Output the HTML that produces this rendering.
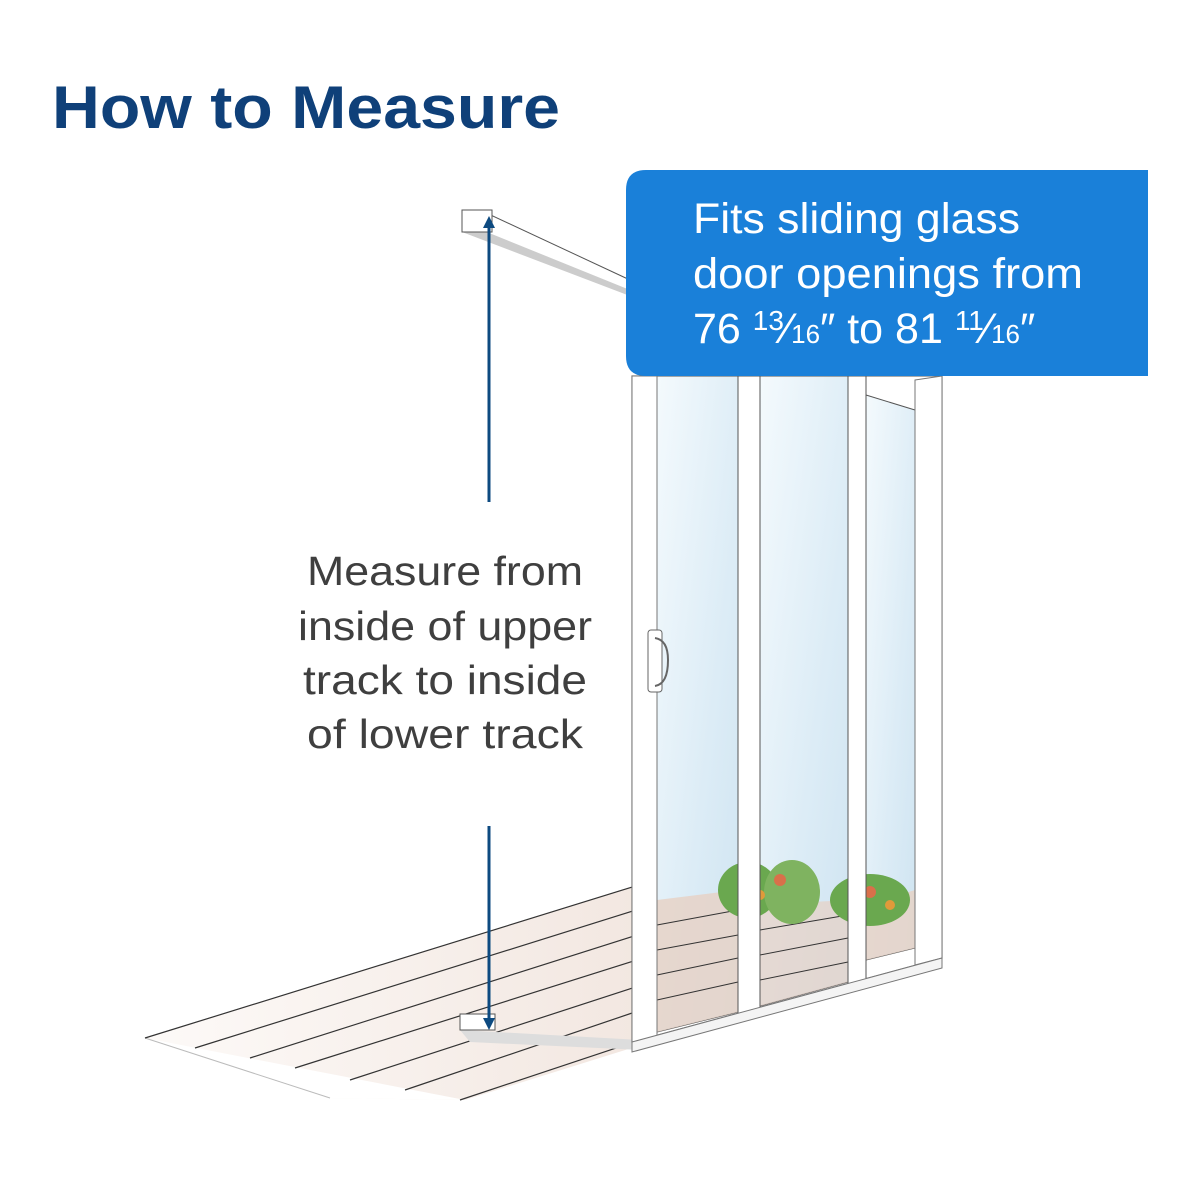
<!DOCTYPE html>
<html><head><meta charset="utf-8"><style>
html,body{margin:0;padding:0;background:#fff;}
svg{display:block;}
</style></head><body>
<svg width="1200" height="1200" viewBox="0 0 1200 1200" xmlns="http://www.w3.org/2000/svg">
<defs>
<linearGradient id="fl" x1="0" y1="0" x2="1" y2="0">
<stop offset="0" stop-color="#fdfaf8"/><stop offset="1" stop-color="#ecdcd3"/></linearGradient>
<linearGradient id="gl" x1="0" y1="0" x2="1" y2="1">
<stop offset="0" stop-color="#f4fafd"/><stop offset="0.6" stop-color="#dcecf6"/><stop offset="1" stop-color="#cfe4f1"/></linearGradient>
</defs>
<text x="52" y="128" font-family="Liberation Sans, sans-serif" font-weight="bold" font-size="60" fill="#0f4079" textLength="508" lengthAdjust="spacingAndGlyphs">How to Measure</text>

<!-- floor -->
<polygon points="145,1038 700,866 930,878 930,955 465,1100 330,1098" fill="url(#fl)"/>
<polygon points="145,1038 330,1098 465,1100" fill="#fff"/>
<polyline points="145,1038 330,1098" fill="none" stroke="#bbb" stroke-width="1"/>
<g stroke="#333" stroke-width="1.2">
<line x1="145" y1="1038" x2="700" y2="866"/>
<line x1="195" y1="1048" x2="700" y2="890"/>
<line x1="250" y1="1058" x2="700" y2="915"/>
<line x1="295" y1="1068" x2="700" y2="940"/>
<line x1="350" y1="1080" x2="700" y2="966"/>
<line x1="405" y1="1090" x2="700" y2="990"/>
<line x1="460" y1="1100" x2="640" y2="1040"/>
<line x1="760" y1="912" x2="930" y2="890"/>
<line x1="760" y1="936" x2="930" y2="908"/>
<line x1="760" y1="960" x2="870" y2="940"/>
</g>

<!-- upper track -->
<polygon points="462,212 480,210 630,280 630,292 462,230" fill="#fff" stroke="#555" stroke-width="1"/>
<polygon points="462,222 630,290 630,296 462,232" fill="#ccc"/>
<rect x="462" y="210" width="30" height="22" fill="#fff" stroke="#555" stroke-width="1"/>
<!-- lower track -->
<polygon points="460,1030 640,1040 640,1050 470,1042" fill="#ddd"/>
<rect x="460" y="1014" width="35" height="16" fill="#fff" stroke="#555" stroke-width="1"/>

<!-- door frame -->
<polygon points="632,376 942,376 942,958 632,1042" fill="#fff" stroke="#777" stroke-width="1.2"/>
<polygon points="657,376 738,376 738,1012 657,1032" fill="url(#gl)" stroke="#555"/>
<polygon points="760,376 848,376 848,982 760,1006" fill="url(#gl)" stroke="#555"/>
<polygon points="866,395 915,410 915,948 866,960" fill="url(#gl)" stroke="#555"/>
<polygon points="657,900 738,890 738,1012 657,1032" fill="#e6d2c7" opacity="0.85"/>
<polygon points="760,905 848,900 848,982 760,1006" fill="#e6d2c7" opacity="0.75"/>
<polygon points="866,905 915,890 915,948 866,960" fill="#e6d2c7" opacity="0.85"/>
<g stroke="#333" stroke-width="1">
<line x1="657" y1="925" x2="738" y2="910"/><line x1="657" y1="950" x2="738" y2="935"/><line x1="657" y1="975" x2="738" y2="958"/><line x1="657" y1="1000" x2="738" y2="982"/>
<line x1="760" y1="930" x2="848" y2="915"/><line x1="760" y1="955" x2="848" y2="938"/><line x1="760" y1="980" x2="848" y2="962"/>
</g>
<ellipse cx="748" cy="890" rx="30" ry="28" fill="#6aa84f"/>
<ellipse cx="792" cy="892" rx="28" ry="32" fill="#7fb360"/>
<ellipse cx="870" cy="900" rx="40" ry="26" fill="#6aa84f"/>
<circle cx="780" cy="880" r="6" fill="#d9704a"/><circle cx="870" cy="892" r="6" fill="#d9704a"/><circle cx="890" cy="905" r="5" fill="#e09a3a"/><circle cx="760" cy="895" r="5" fill="#e09a3a"/>
<polygon points="738,376 760,376 760,1010 738,1014" fill="#fff" stroke="#555"/>
<polygon points="848,376 866,376 866,980 848,984" fill="#fff" stroke="#555"/>
<rect x="632" y="376" width="25" height="666" fill="#fff" stroke="#777"/>
<polygon points="915,380 942,376 942,958 915,965" fill="#fff" stroke="#777"/>
<polygon points="632,1042 942,958 942,968 632,1052" fill="#f4f4f4" stroke="#777"/>
<rect x="648" y="630" width="14" height="62" rx="3" fill="#fff" stroke="#666"/>
<path d="M655,638 Q668,640 668,660 Q668,684 655,686" fill="none" stroke="#666" stroke-width="2"/>

<!-- blue box -->
<path d="M646,170 H1148 V376 H646 Q626,376 626,356 V190 Q626,170 646,170 Z" fill="#1a80d9"/>
<g font-family="Liberation Sans, sans-serif" font-size="43" fill="#fff">
<text x="693" y="233" textLength="327" lengthAdjust="spacingAndGlyphs">Fits sliding glass</text>
<text x="693" y="288" textLength="390" lengthAdjust="spacingAndGlyphs">door openings from</text>
<text x="693" y="343">76 <tspan font-size="28" dy="-13">13</tspan><tspan dy="13">⁄</tspan><tspan font-size="26">16</tspan>″ to 81 <tspan font-size="28" dy="-13">11</tspan><tspan dy="13">⁄</tspan><tspan font-size="26">16</tspan>″</text>
</g>

<!-- measure text -->
<g font-family="Liberation Sans, sans-serif" font-size="41" fill="#3f3f3f" text-anchor="middle">
<text x="445" y="585" textLength="276" lengthAdjust="spacingAndGlyphs">Measure from</text>
<text x="445" y="640" textLength="294" lengthAdjust="spacingAndGlyphs">inside of upper</text>
<text x="445" y="694" textLength="284" lengthAdjust="spacingAndGlyphs">track to inside</text>
<text x="445" y="748" textLength="276" lengthAdjust="spacingAndGlyphs">of lower track</text>
</g>

<g stroke="#0d4a80" stroke-width="3">
<line x1="489" y1="226" x2="489" y2="502"/>
<line x1="489" y1="826" x2="489" y2="1020"/>
</g>
<polygon points="489,216 483,228 495,228" fill="#0d4a80"/>
<polygon points="489,1030 483,1018 495,1018" fill="#0d4a80"/>
</svg>
</body></html>
